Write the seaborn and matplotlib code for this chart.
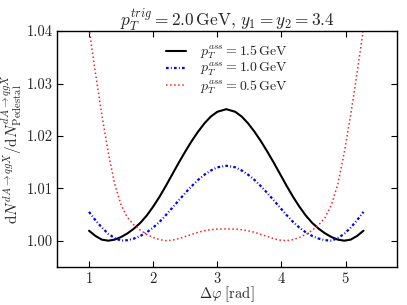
import numpy as np
import pandas as pd
import matplotlib
matplotlib.use("Agg")
import matplotlib.pyplot as plt
import seaborn as sns

# data (symmetric around pi)
dphi = [1.00, 1.10, 1.20, 1.30, 1.40, 1.50, 1.60, 1.70, 1.80, 1.90, 2.00,
        2.10, 2.20, 2.30, 2.40, 2.50, 2.60, 2.70, 2.80, 2.90, 3.00, 3.14,
        3.28, 3.38, 3.48, 3.58, 3.68, 3.78, 3.88, 3.98, 4.08, 4.18, 4.28,
        4.38, 4.48, 4.58, 4.68, 4.78, 4.88, 4.98, 5.08, 5.18, 5.28]

ratio_15 = [1.0019, 1.0009, 1.0002, 1.0000, 1.0002, 1.0007, 1.0014, 1.0023, 1.0034, 1.0048, 1.0065,
            1.0084, 1.0105, 1.0127, 1.0149, 1.0170, 1.0190, 1.0208, 1.0224, 1.0237, 1.0246, 1.0251,
            1.0246, 1.0237, 1.0224, 1.0208, 1.0190, 1.0170, 1.0149, 1.0127, 1.0105, 1.0084, 1.0065,
            1.0048, 1.0034, 1.0023, 1.0014, 1.0007, 1.0002, 1.0000, 1.0002, 1.0009, 1.0019]

ratio_10 = [1.0055, 1.0039, 1.0025, 1.0013, 1.0005, 1.0000, 1.0001, 1.0004, 1.0009, 1.0016, 1.0025,
            1.0036, 1.0049, 1.0063, 1.0077, 1.0091, 1.0104, 1.0116, 1.0126, 1.0134, 1.0140, 1.0143,
            1.0140, 1.0134, 1.0126, 1.0116, 1.0104, 1.0091, 1.0077, 1.0063, 1.0049, 1.0036, 1.0025,
            1.0016, 1.0009, 1.0004, 1.0001, 1.0000, 1.0005, 1.0013, 1.0025, 1.0039, 1.0055]

ratio_05 = [1.0405, 1.0320, 1.0240, 1.0168, 1.0108, 1.0068, 1.0044, 1.0030, 1.0020, 1.0012, 1.0006,
            1.0002, 1.0000, 1.0001, 1.0004, 1.0008, 1.0012, 1.0016, 1.0019, 1.0021, 1.0022, 1.00225,
            1.0022, 1.0021, 1.0019, 1.0016, 1.0012, 1.0008, 1.0004, 1.0001, 1.0000, 1.0002, 1.0006,
            1.0012, 1.0020, 1.0030, 1.0044, 1.0068, 1.0108, 1.0168, 1.0240, 1.0320, 1.0405]

labels = [r"$p_T^{ass} = 1.5\,\mathrm{GeV}$",
          r"$p_T^{ass} = 1.0\,\mathrm{GeV}$",
          r"$p_T^{ass} = 0.5\,\mathrm{GeV}$"]

sns.set_style("ticks")
plt.rcParams["font.family"] = "serif"
plt.rcParams["font.serif"] = ["cmr10", "DejaVu Serif"]
plt.rcParams["mathtext.fontset"] = "cm"
plt.rcParams["axes.formatter.use_mathtext"] = True

fig = plt.figure(figsize=(4.07, 3.05), dpi=100)
ax = fig.add_axes([0.140, 0.125, 0.835, 0.773])

df = pd.DataFrame({"dphi": dphi, "r15": ratio_15, "r10": ratio_10, "r05": ratio_05})

sns.lineplot(data=df, x="dphi", y="r15", ax=ax, color="black", lw=1.5,
             linestyle="-", label=labels[0])
sns.lineplot(data=df, x="dphi", y="r10", ax=ax, color="blue", lw=1.6,
             dashes=(1.2, 1.0, 0.4, 1.0), label=labels[1])
sns.lineplot(data=df, x="dphi", y="r05", ax=ax, color="#ff2020", lw=1.1,
             linestyle=":", label=labels[2])

ax.set_xlim(0.5, 5.8)
ax.set_ylim(0.995, 1.04)
ax.set_xticks([1, 2, 3, 4, 5])
ax.set_yticks([1.00, 1.01, 1.02, 1.03, 1.04])
ax.set_yticklabels(["1.00", "1.01", "1.02", "1.03", "1.04"])
ax.tick_params(direction="in", top=True, right=True, labelsize=10.5, length=4,
               colors="black", labelcolor="#222222")
ax.tick_params(axis="x", pad=3)
ax.tick_params(axis="y", pad=3)
for sp in ax.spines.values():
    sp.set_linewidth(1.0)
    sp.set_color("black")

ax.set_xlabel(r"$\Delta\varphi\ [\mathrm{rad}]$", fontsize=10.5, labelpad=-1)
ax.set_ylabel(r"$\mathrm{d}N^{dA\to qgX}/\mathrm{d}N^{dA\to qgX}_{\mathrm{Pedestal}}$",
              fontsize=11, labelpad=2)
ax.set_title(r"$p_T^{trig} = 2.0\,\mathrm{GeV},\, y_1 = y_2 = 3.4$", fontsize=12.5, pad=4)

ax.legend(loc="upper center", frameon=False, fontsize=10, handlelength=1.5,
          handletextpad=1.0, labelspacing=0.0, borderaxespad=0.5,
          bbox_to_anchor=(0.5, 1.0))

fig.savefig("out.png", dpi=100)
